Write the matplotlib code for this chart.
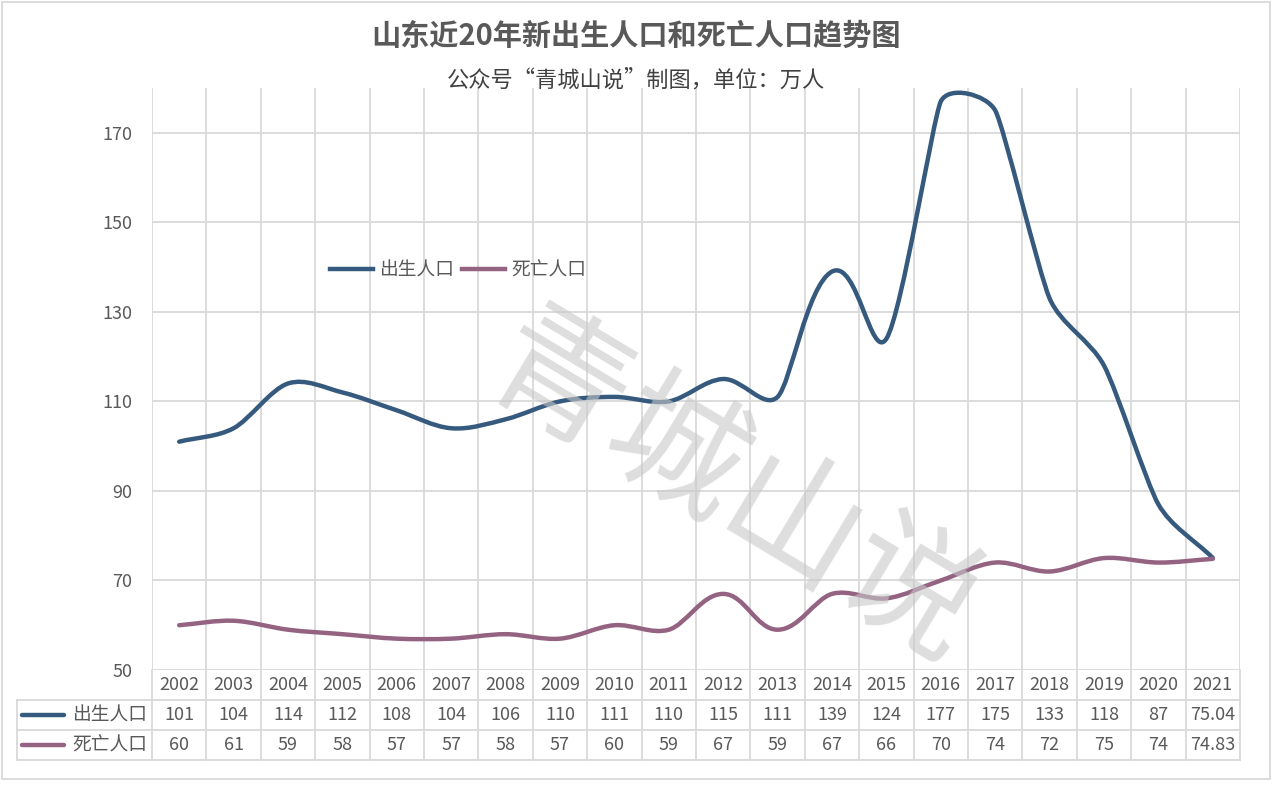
import numpy as np
import matplotlib
matplotlib.use("Agg")
import matplotlib.pyplot as plt
from matplotlib.path import Path
from matplotlib.patches import PathPatch, Rectangle
from matplotlib.lines import Line2D
import matplotlib.transforms as mtransforms

plt.rcParams["font.family"] = ["Noto Sans CJK SC", "DejaVu Sans"]

# --------------------------------------------------
# Data
# --------------------------------------------------

years = [str(y) for y in range(2002, 2022)]
births = [101, 104, 114, 112, 108, 104, 106, 110, 111, 110,
          115, 111, 139, 124, 177, 175, 133, 118, 87, 75.04]
deaths = [60, 61, 59, 58, 57, 57, 58, 57, 60, 59,
          67, 59, 67, 66, 70, 74, 72, 75, 74, 74.83]
birth_labels = ["101", "104", "114", "112", "108", "104", "106", "110", "111", "110",
                "115", "111", "139", "124", "177", "175", "133", "118", "87", "75.04"]
death_labels = ["60", "61", "59", "58", "57", "57", "58", "57", "60", "59",
                "67", "59", "67", "66", "70", "74", "72", "75", "74", "74.83"]
series_names = ["出生人口", "死亡人口"]
yticks = [50, 70, 90, 110, 130, 150, 170]

BLUE = "#365a7e"
MAUVE = "#956382"
GRID = "#d9d9d9"
TXT = "#595959"

W, H = 1272, 795
AX_L, AX_R, AX_T, AX_B = 152, 1240, 88, 670
YMIN, YMAX = 50, 180


# --------------------------------------------------
# Excel-like smoothed line (cubic Bezier, built in pixel space)
# --------------------------------------------------

def smooth_path(xs, ys, sx, sy):
    pts = np.column_stack([np.asarray(xs) * sx, np.asarray(ys, float) * sy])
    n = len(pts)
    seg = np.linalg.norm(np.diff(pts, axis=0), axis=1)
    tang = []
    for i in range(n):
        a = pts[max(i - 1, 0)]
        b = pts[min(i + 1, n - 1)]
        d = b - a
        u = d / np.linalg.norm(d)
        if i == 0:
            L = seg[0]
        elif i == n - 1:
            L = seg[-1]
        else:
            L = min(seg[i - 1], seg[i])
        tang.append(u * L / 3.0)
    verts = [pts[0]]
    codes = [Path.MOVETO]
    for i in range(n - 1):
        verts += [pts[i] + tang[i], pts[i + 1] - tang[i + 1], pts[i + 1]]
        codes += [Path.CURVE4] * 3
    verts = np.array(verts)
    verts[:, 0] /= sx
    verts[:, 1] /= sy
    return Path(verts, codes)


fig = plt.figure(figsize=(12.72, 7.95), dpi=100)

ax = fig.add_axes([AX_L / W, 1 - AX_B / H, (AX_R - AX_L) / W, (AX_B - AX_T) / H])

n = len(years)
xc = np.arange(n) + 0.5

ax.set_xlim(0, n)
ax.set_ylim(YMIN, YMAX)
ax.set_yticks(yticks)
ax.set_xticks([])
ax.tick_params(axis="y", length=0, pad=14, labelsize=13, labelcolor=TXT)
for s in ax.spines.values():
    s.set_visible(False)

# grid
for v in yticks:
    ax.axhline(v, color=GRID, lw=1.3, zorder=0)
for k in range(n + 1):
    ax.axvline(k, color=GRID, lw=1.3, zorder=0)

# watermark
fig.text(732 / W, 1 - 492 / H, "青城山说", fontsize=98, color="#c8c8c8",
         alpha=0.6, rotation=-31, ha="center", va="center",
         rotation_mode="anchor", zorder=1)

# lines
sx = (AX_R - AX_L) / n
sy = (AX_B - AX_T) / (YMAX - YMIN)
for vals, col in [(births, BLUE), (deaths, MAUVE)]:
    ax.add_patch(PathPatch(smooth_path(xc, vals, sx, sy), fill=False, edgecolor=col,
                           lw=3.2, capstyle="round", joinstyle="round", zorder=3))

# legend
handles = [Line2D([], [], color=BLUE, lw=3.2),
           Line2D([], [], color=MAUVE, lw=3.2)]
ax.legend(handles, series_names, loc="center",
          bbox_to_anchor=((458 - AX_L) / (AX_R - AX_L), (AX_B - 270) / (AX_B - AX_T)),
          ncol=2, frameon=False, fontsize=13.5, handlelength=2.3, handletextpad=0.35,
          columnspacing=0.4, labelcolor=TXT)

# --------------------------------------------------
# Data table below the plot
# --------------------------------------------------

cw = (AX_R - AX_L) / n
row_h = 30 / (AX_B - AX_T)
left = (17 - AX_L) / cw
trans = mtransforms.blended_transform_factory(ax.transData, ax.transAxes)

def tline(x, y):
    ax.add_line(Line2D(x, y, transform=trans, color=GRID, lw=1.3, clip_on=False))

# horizontal lines
tline([left, n], [-row_h, -row_h])
tline([left, n], [-2 * row_h, -2 * row_h])
tline([left, n], [-3 * row_h, -3 * row_h])
# vertical lines
for k in range(n + 1):
    tline([k, k], [0, -3 * row_h])
tline([left, left], [-row_h, -3 * row_h])

for i, yr in enumerate(years):
    ax.text(xc[i], -0.5 * row_h, yr, transform=trans, ha="center", va="center",
            fontsize=13, color=TXT)
    ax.text(xc[i], -1.5 * row_h, birth_labels[i], transform=trans, ha="center",
            va="center", fontsize=13, color=TXT)
    ax.text(xc[i], -2.5 * row_h, death_labels[i], transform=trans, ha="center",
            va="center", fontsize=13, color=TXT)

key_x0 = left + 5 / cw
key_x1 = left + 47 / cw
for r, (name, col) in enumerate(zip(series_names, [BLUE, MAUVE])):
    yy = -(1.5 + r) * row_h
    ax.add_line(Line2D([key_x0, key_x1], [yy, yy], transform=trans, color=col,
                       lw=3.2, solid_capstyle="round", clip_on=False))
    ax.text(left + 55 / cw, yy, name, transform=trans, ha="left", va="center",
            fontsize=13.5, color=TXT)

# --------------------------------------------------
# Titles and outer frame
# --------------------------------------------------

fig.text(636 / W, 1 - 36 / H, "山东近20年新出生人口和死亡人口趋势图", ha="center",
         va="center", fontsize=21, fontweight="bold", color="#595959")
fig.text(636 / W, 1 - 80 / H, "公众号“青城山说”制图，单位：万人", ha="center",
         va="center", fontsize=16, color="#404040")

fig.patches.append(Rectangle((2 / W, 1 - 779 / H), 1268 / W, 777 / H,
                             transform=fig.transFigure, fill=False,
                             edgecolor=GRID, lw=1.3))

fig.savefig("out.png", dpi=100)
